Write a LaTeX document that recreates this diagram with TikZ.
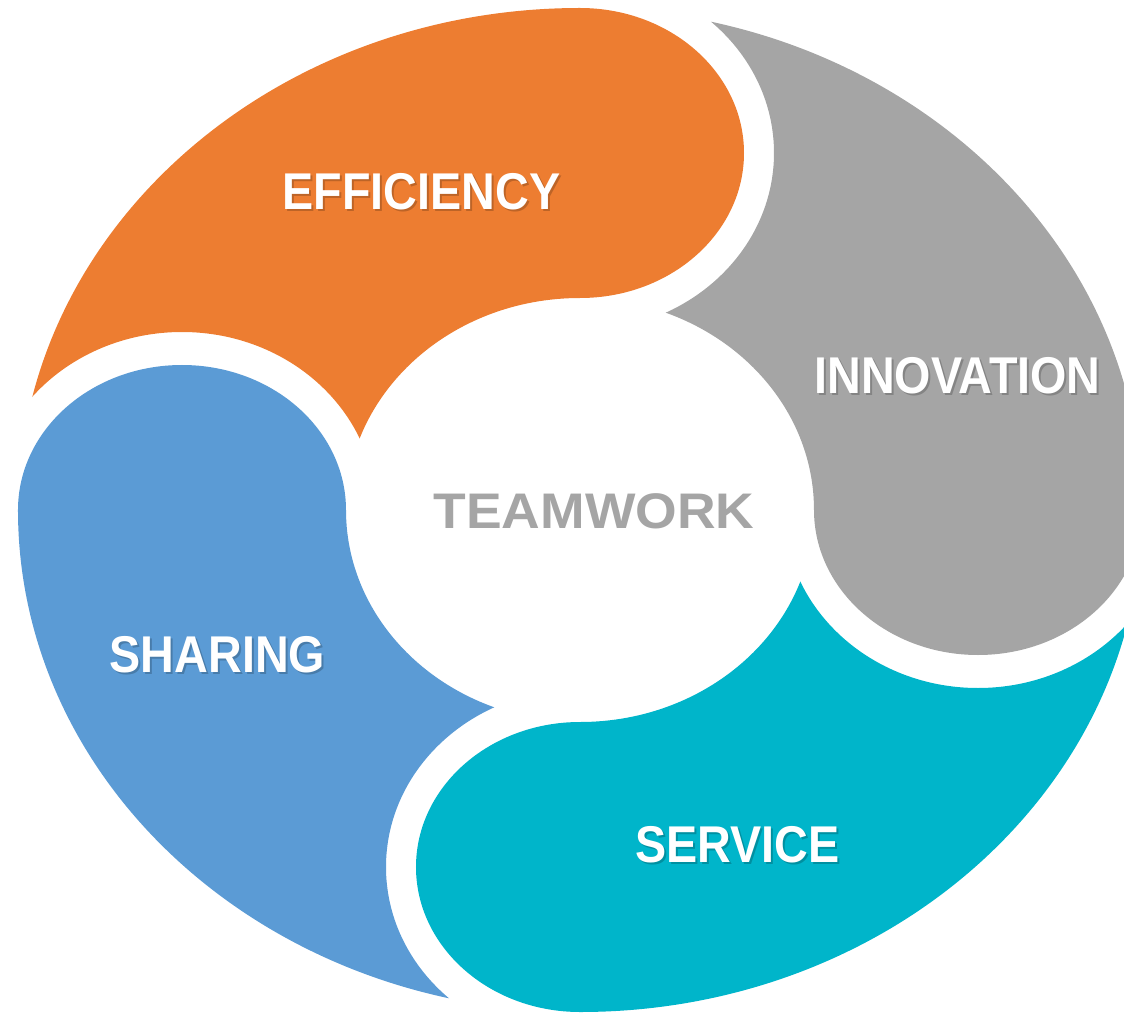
\documentclass[tikz,border=0pt]{standalone}
\usepackage{fontspec}
\setmainfont{Liberation Sans}
\usepackage{graphicx}
\definecolor{cOrange}{HTML}{ED7D31}
\definecolor{cGray}{HTML}{A5A5A5}
\definecolor{cTeal}{HTML}{00B5CA}
\definecolor{cBlue}{HTML}{5B9BD5}
\definecolor{cText}{HTML}{A5A5A5}
\newcommand{\oR}{562}\newcommand{\oS}{502}
\newcommand{\iR}{234}\newcommand{\iS}{212}
\newcommand{\hA}{164}\newcommand{\hB}{145}
\newcommand{\gA}{194}\newcommand{\gB}{178}
\begin{document}
\begin{tikzpicture}[x=1pt,y=1pt,
  lbl/.style={text=white,inner sep=0pt,font=\fontsize{46.7}{50}\selectfont\bfseries},
  lblshadow/.style={text=black,text opacity=0.2,inner sep=0pt,font=\fontsize{46.7}{50}\selectfont\bfseries},
  center/.style={text=cText,inner sep=0pt,font=\fontsize{50}{54}\selectfont\bfseries},
  head/.style={x radius=\hA,y radius=\hB},
  inner/.style={x radius=\iR,y radius=\iS},
  outer/.style={x radius=\oR,y radius=\oS}]
\useasboundingbox (-580,-502) rectangle (544,510);
\clip (-580,-502) rectangle (544,510);
% orange
\begin{scope}[even odd rule]
  \clip (-398,0) ellipse [x radius=\gA,y radius=\gB] (800,800) rectangle (-800,-800);
  \fill[cOrange] (0,502) arc[start angle=90,end angle=-90,head]
    arc[start angle=90,end angle=180,inner] -- (-562,0)
    arc[start angle=180,end angle=90,outer] -- cycle;
\end{scope}
% gray
\begin{scope}[even odd rule]
  \clip (0,357) ellipse [x radius=\gA,y radius=\gB] (800,800) rectangle (-800,-800);
  \fill[cGray] (562,0) arc[start angle=0,end angle=-180,head]
    arc[start angle=0,end angle=90,inner] -- (0,502)
    arc[start angle=90,end angle=0,outer] -- cycle;
\end{scope}
% teal
\begin{scope}[even odd rule]
  \clip (398,0) ellipse [x radius=\gA,y radius=\gB] (800,800) rectangle (-800,-800);
  \fill[cTeal] (0,-502) arc[start angle=-90,end angle=-270,head]
    arc[start angle=-90,end angle=0,inner] -- (562,0)
    arc[start angle=0,end angle=-90,outer] -- cycle;
\end{scope}
% blue
\begin{scope}[even odd rule]
  \clip (0,-357) ellipse [x radius=\gA,y radius=\gB] (800,800) rectangle (-800,-800);
  \fill[cBlue] (-562,0) arc[start angle=180,end angle=0,head]
    arc[start angle=180,end angle=270,inner] -- (0,-502)
    arc[start angle=270,end angle=180,outer] -- cycle;
\end{scope}
% labels
\node[lblshadow] (effS) at (-156.5,316.5) {\scalebox{1}[1.107]{EFFICIENCY}};
\node[lbl] (eff) at (-158.5,318.5) {\scalebox{1}[1.107]{EFFICIENCY}};
\node[lblshadow] (innS) at (379.5,132) {\scalebox{1}[1.107]{INNOVATION}};
\node[lbl] (inn) at (377.5,134) {\scalebox{1}[1.107]{INNOVATION}};
\node[lblshadow] (shaS) at (-360.5,-147) {\scalebox{1}[1.107]{SHARING}};
\node[lbl] (sha) at (-362.5,-145) {\scalebox{1}[1.107]{SHARING}};
\node[lblshadow] (serS) at (159.5,-337) {\scalebox{1}[1.107]{SERVICE}};
\node[lbl] (ser) at (157.5,-335) {\scalebox{1}[1.107]{SERVICE}};
\node[center] (team) at (14,-1) {\scalebox{1.07}[1]{TEAMWORK}};
\end{tikzpicture}
\end{document}
